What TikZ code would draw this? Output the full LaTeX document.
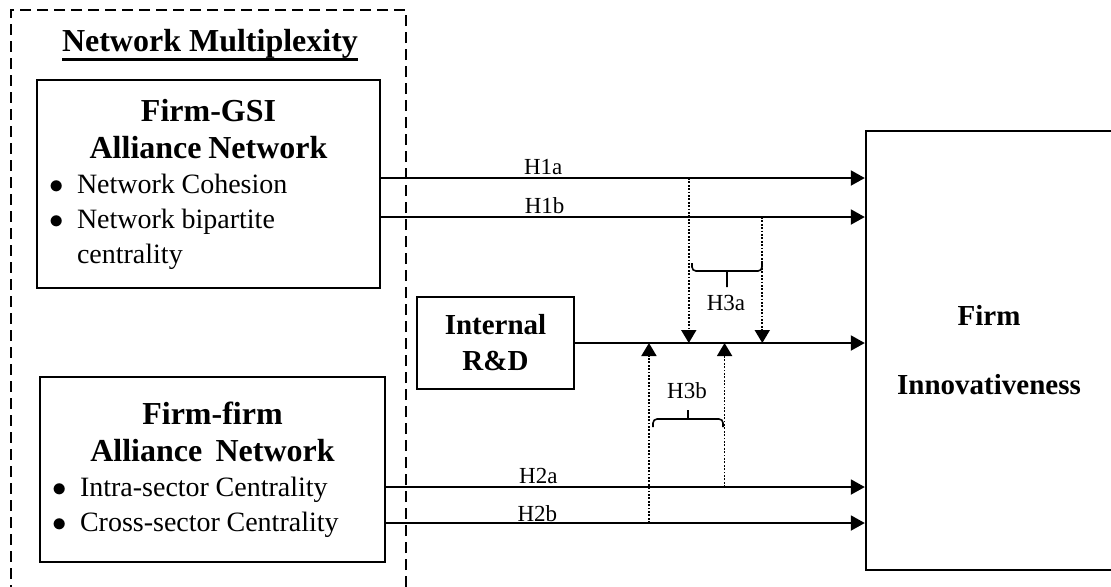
\documentclass[tikz,border=0pt]{standalone}
\usepackage{fontspec}
\setmainfont{Liberation Serif}
\usetikzlibrary{arrows.meta,positioning,calc}
\tikzset{
  box/.style={draw,line width=1.2pt,inner sep=0pt},
  netbox/.style={box,inner xsep=6pt,align=left},
  multframe/.style={draw,line width=1pt,dash pattern=on 5.5pt off 3pt},
  arr/.style={-{Triangle[length=7pt,width=7.5pt]},line width=1pt},
  modarr/.style={-{Triangle[length=6.5pt,width=7.5pt]},line width=0.9pt,dash pattern=on 0.9pt off 0.8pt},
  lbl/.style={above,inner sep=1pt,font=\fontsize{11.5}{13}\selectfont},
  brk/.style={line width=0.8pt,rounded corners=2pt},
}
\newcommand{\boxtitle}[1]{{\centering\fontsize{16}{18.5}\selectfont\bfseries #1\par}}
\newcommand{\bitem}[1]{\par\noindent\hangindent=14pt\hangafter=1\makebox[14pt][l]{$\bullet$}#1}
\newcommand{\ulined}[1]{\setbox0\hbox{#1}\rlap{\rule[-4.75pt]{\wd0}{1.4pt}}\box0}

\begin{document}
\begin{tikzpicture}[x=0.5pt,y=-0.5pt]
\useasboundingbox (0,0) rectangle (1111,586);
\clip (0,0) rectangle (1111,586);

% network multiplexity frame
\node[multframe,minimum width=197.5pt,minimum height=295pt] (mplx) at (208.5,305) {};
\node[font=\fontsize{16}{18}\selectfont\bfseries] (mplxtitle) at (210,45) {\ulined{Network Multiplexity}};

\node[netbox,minimum width=171.5pt,minimum height=104pt,text width=159.5pt] (gsi) at (208.5,184)
  {\boxtitle{Firm-GSI\\ Alliance Network}
   \fontsize{14}{17.5}\selectfont
   \bitem{Network Cohesion}
   \bitem{Network bipartite \mbox{centrality}}\par};
\node[netbox,minimum width=172.5pt,minimum height=92.5pt,text width=160.5pt] (ff) at (212.5,469.5)
  {\boxtitle{Firm-firm\\ Alliance~ Network}
   \fontsize{14}{17.5}\selectfont
   \bitem{Intra-sector Centrality}
   \bitem{Cross-sector Centrality}\par};
\node[box,minimum width=78.5pt,minimum height=46pt,align=center,
  font=\fontsize{14.5}{18}\selectfont\bfseries] (rd) at (495.5,343) {Internal\\R\&D};
\node[box,minimum width=150pt,minimum height=219.5pt] (innov) at (1016,350.5) {};
\node[align=center,font=\fontsize{14.5}{34.5}\selectfont\bfseries] (innovtxt) at (989,350) {Firm\\Innovativeness};

% main effects
\coordinate (ya) at (0,178);
\coordinate (yb) at (0,217);
\coordinate (yc) at (0,487);
\coordinate (yd) at (0,523);
\draw[arr] (gsi.east |- ya) -- node[lbl,pos=.335]{H1a} coordinate[pos=.636] (ma) (innov.west |- ya);
\draw[arr] (gsi.east |- yb) -- node[lbl,pos=.338]{H1b} coordinate[pos=.788] (mb) (innov.west |- yb);
\draw[arr] (rd.east) -- (rd.east -| innov.west);
\draw[arr] (ff.east |- yc) -- node[lbl,pos=.318]{H2a} coordinate[pos=.707] (mc) (innov.west |- yc);
\draw[arr] (ff.east |- yd) -- node[lbl,pos=.316,inner sep=0.3pt]{H2b} coordinate[pos=.549] (md) (innov.west |- yd);

% moderation
\draw[modarr] (ma) -- (ma |- rd.east);
\draw[modarr] (mb) -- (mb |- rd.east);
\draw[modarr] (mc) -- (mc |- rd.east);
\draw[modarr] (md) -- (md |- rd.east);
\draw[brk] (692,263) -- (692,271) -- (762,271) -- (762,263) (727,271) -- (727,287);
\node[font=\fontsize{11.5}{13}\selectfont] (h3a) at (726,303) {H3a};
\draw[brk] (653,427) -- (653,419) -- (723,419) -- (723,427) (688,419) -- (688,410);
\node[font=\fontsize{11.5}{13}\selectfont] (h3b) at (687,391) {H3b};
\end{tikzpicture}
\end{document}
